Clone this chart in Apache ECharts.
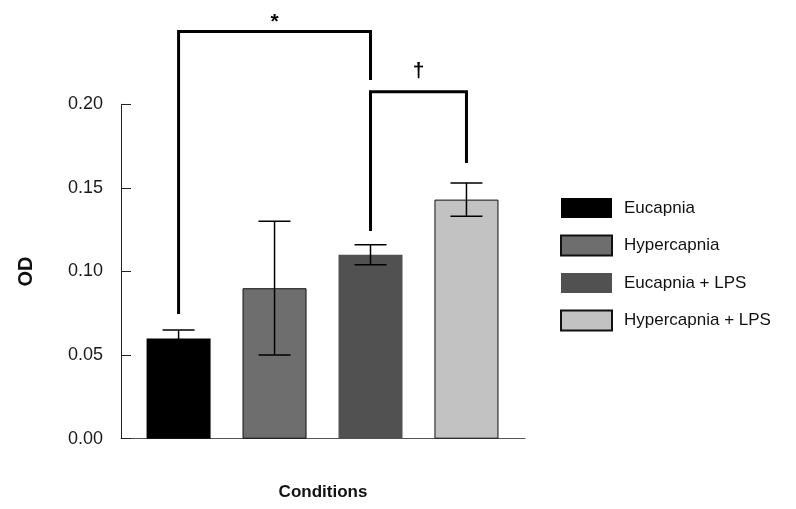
<!DOCTYPE html>
<html>
<head>
<meta charset="utf-8">
<script src="https://cdn.jsdelivr.net/npm/echarts@6/dist/echarts.min.js"></script>
<style>
  html, body { margin: 0; padding: 0; background: #fff; }
  #chart { width: 796px; height: 509px; }
</style>
</head>
<body>
<div id="chart"></div>
<script>
// conditions (one bar each) and the measured OD
var categories = ['Eucapnia', 'Hypercapnia', 'Eucapnia + LPS', 'Hypercapnia + LPS'];
var odValues = [0.060, 0.090, 0.110, 0.143];
var odErrors = [0.005, 0.040, 0.006, 0.010];
var barColors = ['#000000', '#6e6e6e', '#515151', '#c2c2c2'];
var barBorders = [0, 1, 0, 1];

// y axis ticks
var yMin = 0, yMax = 0.20, yStep = 0.05;

// significance brackets: [from bar, to bar, top, left leg end, right leg end]
var bracketRows = [
  [0, 2, 0.2435, 0.0746, 0.2145],
  [2, 3, 0.2075, 0.1242, 0.1649]
];
var bracketMarks = ['*', '\u2020'];
var bracketMarkY = [0.2492, 0.2195];

var chart = echarts.init(document.getElementById('chart'), null, { renderer: 'canvas' });
var font = 'Liberation Sans, Arial, sans-serif';

var series = categories.map(function (name, i) {
  return {
    name: name,
    type: 'bar',
    barWidth: 64,
    barGap: '-100%',
    data: [[i, odValues[i]]],
    itemStyle: {
      color: barColors[i],
      borderColor: '#111',
      borderWidth: barBorders[i]
    },
    z: 2
  };
});

// error bars
series.push({
  type: 'custom',
  clip: false,
  z: 5,
  data: odValues.map(function (v, i) { return [i, v, odErrors[i]]; }),
  encode: { x: 0, y: 1 },
  renderItem: function (params, api) {
    var x = api.value(0), v = api.value(1), e = api.value(2);
    var hi = api.coord([x, v + e]);
    var lo = api.coord([x, v - e]);
    var st = { stroke: '#000', lineWidth: 1.5 };
    return {
      type: 'group',
      children: [
        { type: 'line', shape: { x1: hi[0], y1: hi[1], x2: lo[0], y2: lo[1] }, style: st },
        { type: 'line', shape: { x1: hi[0] - 16, y1: hi[1], x2: hi[0] + 16, y2: hi[1] }, style: st },
        { type: 'line', shape: { x1: lo[0] - 16, y1: lo[1], x2: lo[0] + 16, y2: lo[1] }, style: st }
      ]
    };
  }
});

// brackets
series.push({
  type: 'custom',
  clip: false,
  z: 6,
  data: bracketRows,
  encode: { x: [0, 1], y: [2, 3, 4] },
  renderItem: function (params, api) {
    var a = api.value(0), b = api.value(1), top = api.value(2);
    var p1 = api.coord([a, api.value(3)]);
    var p2 = api.coord([a, top]);
    var p3 = api.coord([b, top]);
    var p4 = api.coord([b, api.value(4)]);
    var m = api.coord([(a + b) / 2, bracketMarkY[params.dataIndex]]);
    return {
      type: 'group',
      children: [
        {
          type: 'polyline',
          shape: { points: [p1, p2, p3, p4] },
          style: { stroke: '#000', lineWidth: 3, fill: null, lineJoin: 'miter' }
        },
        {
          type: 'text',
          style: {
            text: bracketMarks[params.dataIndex],
            x: m[0], y: m[1],
            align: 'center', verticalAlign: 'middle',
            font: 'bold 21px ' + font,
            fill: '#000'
          }
        }
      ]
    };
  }
});

var option = {
  backgroundColor: '#fff',
  animation: false,
  textStyle: { fontFamily: font },
  grid: { left: 121, right: 271, top: 104.3, bottom: 70.3, outerBoundsMode: 'none' },
  legend: {
    data: categories,
    orient: 'vertical',
    left: 555,
    top: 193,
    itemWidth: 51,
    itemHeight: 20,
    itemGap: 16.5,
    icon: 'rect',
    textStyle: { fontSize: 17, color: '#111', padding: [0, 0, 0, 7], fontFamily: font }
  },
  xAxis: {
    type: 'value',
    min: -0.6,
    max: 3.61,
    name: 'Conditions',
    nameLocation: 'middle',
    nameGap: 45,
    nameTextStyle: { fontSize: 17, fontWeight: 'bold', color: '#111' },
    axisLine: { show: true, onZero: false, lineStyle: { color: '#555', width: 1 } },
    axisTick: { show: false },
    axisLabel: { show: false },
    splitLine: { show: false }
  },
  yAxis: {
    type: 'value',
    min: yMin,
    max: yMax,
    interval: yStep,
    name: 'OD',
    nameLocation: 'middle',
    nameRotate: 90,
    nameGap: 85,
    nameTextStyle: { fontSize: 20, fontWeight: 'bold', color: '#111' },
    axisLine: { show: true, onZero: false, lineStyle: { color: '#222', width: 1 } },
    axisTick: { show: true, inside: true, length: 10, lineStyle: { color: '#222' } },
    axisLabel: {
      fontSize: 18,
      color: '#1a1a1a',
      margin: 18,
      formatter: function (v) { return v.toFixed(2); }
    },
    splitLine: { show: false }
  },
  series: series
};

chart.setOption(option);
</script>
</body>
</html>
